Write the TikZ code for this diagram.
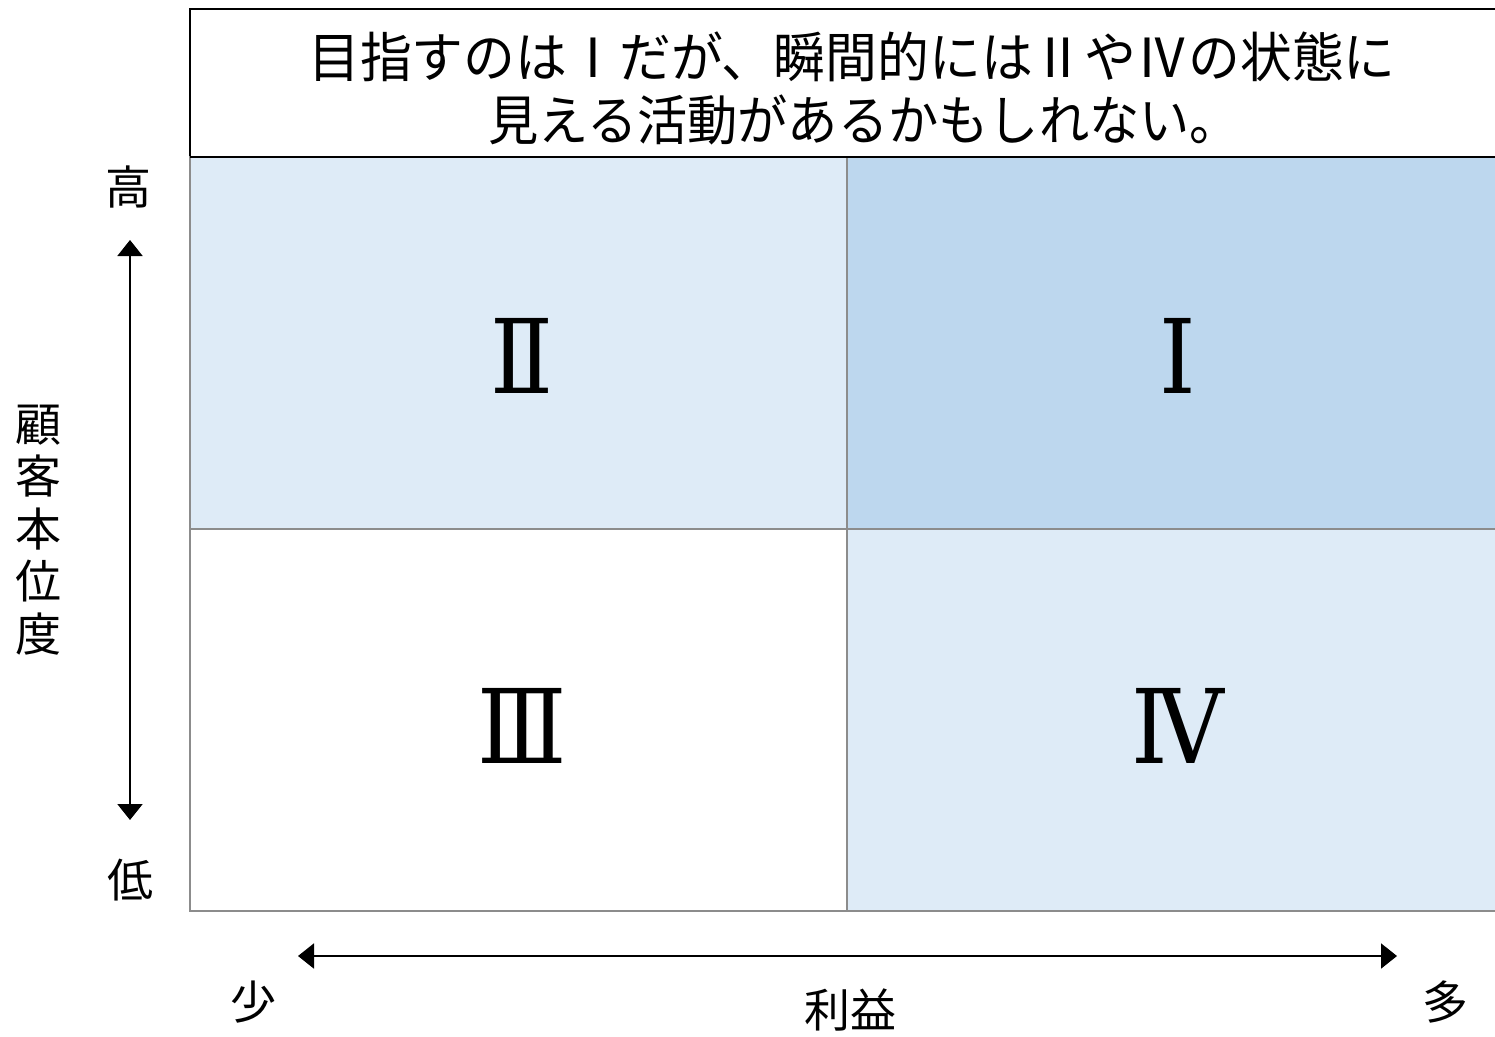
\documentclass[tikz,border=0pt]{standalone}
\usepackage{fontspec}
\setmainfont{Noto Sans CJK JP}
\newfontfamily\romfont{DejaVu Serif}
\usetikzlibrary{arrows.meta}
\definecolor{lb}{HTML}{DEEBF7}
\definecolor{mb}{HTML}{BDD7EE}
\definecolor{gl}{HTML}{8C8C8C}
\tikzset{
  quad/.style={draw=gl, line width=2.5pt, minimum width=657pt, inner sep=0pt},
  num/.style={font=\romfont\fontsize{103}{103}\selectfont, inner sep=0pt},
  lbl/.style={font=\fontsize{46}{52.5}\selectfont, inner sep=0pt, align=center},
  axisline/.style={line width=2pt, {Triangle[length=16pt,width=25pt]}-{Triangle[length=16pt,width=25pt]}}
}
\newcommand{\narrownum}[1]{\scalebox{0.9}[1]{#1}}
\begin{document}
\begin{tikzpicture}[x=1pt,y=-1pt]
\useasboundingbox[fill=white] (0,0) rectangle (1495,1036);
% header
\node[draw=black, line width=2pt, minimum width=1320pt, minimum height=148pt, inner sep=0pt] (head) at (850,83) {};
\node[font=\fontsize{54}{63}\selectfont, align=center, inner sep=0pt] (htext) at (852,88)
  {\scalebox{0.96}[1]{目指すのはⅠだが、瞬間的にはⅡやⅣの状態に}\\\hspace*{24pt}\scalebox{0.93}[1]{見える活動があるかもしれない。}};
% quadrants
\node[quad, fill=lb, minimum height=372pt] (q2) at (518.5,343) {};
\node[quad, fill=mb, minimum height=372pt] (q1) at (1175.5,343) {};
\node[quad, fill=white, minimum height=382pt] (q3) at (518.5,720) {};
\node[quad, fill=lb, minimum height=382pt] (q4) at (1175.5,720) {};
\draw[black, line width=2pt] (190,157) -- (1497,157);
\node[num] (n2) at (522,356) {\narrownum{Ⅱ}};
\node[num] (n1) at (1178,356) {\narrownum{Ⅰ}};
\node[num] (n3) at (522,726) {\narrownum{Ⅲ}};
\node[num] (n4) at (1178,726) {\narrownum{Ⅳ}};
% vertical axis
\node[lbl] (hi) at (128,187) {高};
\node[lbl] (lo) at (130,880) {低};
\coordinate (vt) at (130,240);
\coordinate (vb) at (130,820);
\draw[axisline] (vt) -- (vb);
\node[lbl] (ylab) at (38,530) {顧\\客\\本\\位\\度};
% horizontal axis
\coordinate (hl) at (298,956);
\coordinate (hr) at (1397,956);
\draw[axisline] (hl) -- (hr);
\node[lbl] (few) at (253,1002) {少};
\node[lbl] (many) at (1445,1002) {多};
\node[lbl] (xlab) at (850,1010) {利益};
\end{tikzpicture}
\end{document}
